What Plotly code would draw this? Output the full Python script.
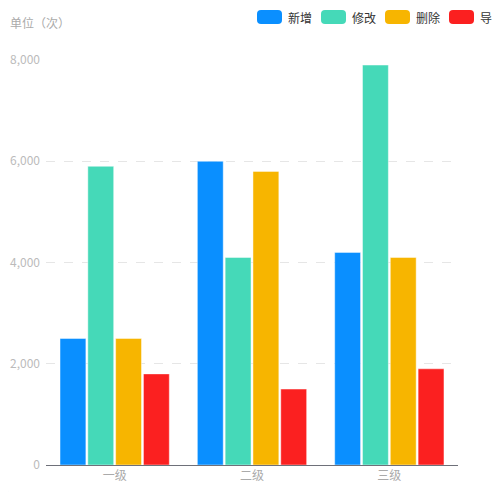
import plotly.graph_objects as go

categories = ["一级", "二级", "三级"]
series_names = ["新增", "修改", "删除", "导出"]
series_values = [
    [2500, 6000, 4200],
    [5900, 4100, 7900],
    [2500, 5800, 4100],
    [1800, 1500, 1900],
]
colors = ["#0a8fff", "#45d9b8", "#f7b500", "#fb2020"]
y_ticks = [0, 2000, 4000, 6000, 8000]

FONT = "Noto Sans CJK SC"
# the page adds an 8px body margin; figure is 492x484 so page coords match
PL, PB = 46, 465          # plot-area left / bottom in page pixels
L, R, T, B = 38, 42, 52, 27
PW, PH = 412, 405

fig = go.Figure()
for name, vals, c in zip(series_names, series_values, colors):
    fig.add_trace(go.Bar(
        x=categories, y=vals, name=name,
        marker=dict(color=c, line=dict(color="rgba(255,255,255,0.45)", width=1)),
        showlegend=False,
    ))

def rrect(x0, y0, x1, y1, r):
    return (f"M{x0+r},{y0} L{x1-r},{y0} Q{x1},{y0} {x1},{y0+r} L{x1},{y1-r} "
            f"Q{x1},{y1} {x1-r},{y1} L{x0+r},{y1} Q{x0},{y1} {x0},{y1-r} "
            f"L{x0},{y0+r} Q{x0},{y0} {x0+r},{y0} Z")

shapes = []
shapes.append(dict(type="path", xref="paper", yref="paper", xsizemode="pixel", ysizemode="pixel",
                   xanchor=0, yanchor=0, path=rrect(8 - PL, PB - 497, 520 - PL, PB + 5, 8),
                   fillcolor="white", line=dict(width=0), layer="below"))
annotations = []
for i, (name, c) in enumerate(zip(series_names, colors)):
    px0 = 257 + 64 * i
    shapes.append(dict(type="path", xref="paper", yref="paper", xsizemode="pixel", ysizemode="pixel",
                       xanchor=0, yanchor=0,
                       path=rrect(px0 - PL, PB - 24, px0 + 25 - PL, PB - 10, 4),
                       fillcolor=c, line=dict(width=0), layer="above"))
    annotations.append(dict(text=name, xref="paper", yref="paper",
                            x=(px0 + 29 - PL) / PW, y=(PB - 17.5) / PH,
                            xanchor="left", yanchor="middle", showarrow=False,
                            font=dict(size=12, color="#333", family=FONT)))
annotations.append(dict(text="单位（次）", xref="paper", yref="paper",
                        x=(8 - PL) / PW, y=(PB - 23) / PH,
                        xanchor="left", yanchor="middle", showarrow=False,
                        font=dict(size=12, color="#aaa", family=FONT)))

fig.update_layout(
    width=492, height=484,
    margin=dict(l=L, r=R, t=T, b=B, autoexpand=False),
    paper_bgcolor="#f3f4f9", plot_bgcolor="rgba(0,0,0,0)",
    font=dict(family=FONT, size=12, color="#bbb"),
    barmode="group", bargap=0.19, bargroupgap=0.07,
    shapes=shapes, annotations=annotations,
    xaxis=dict(showline=True, linecolor="#6e7079", linewidth=1, ticks="", automargin=False,
               tickfont=dict(size=12, color="#aaa"), showgrid=False),
    yaxis=dict(range=[0, 8000], tickvals=y_ticks, tickformat=",d", automargin=False,
               ticklabelstandoff=5,
               showgrid=True, gridcolor="#e6e6e6", griddash="dash", gridwidth=1,
               zeroline=False, tickfont=dict(size=12, color="#bbb"), ticklen=0),
)

fig.write_html("out.html")
